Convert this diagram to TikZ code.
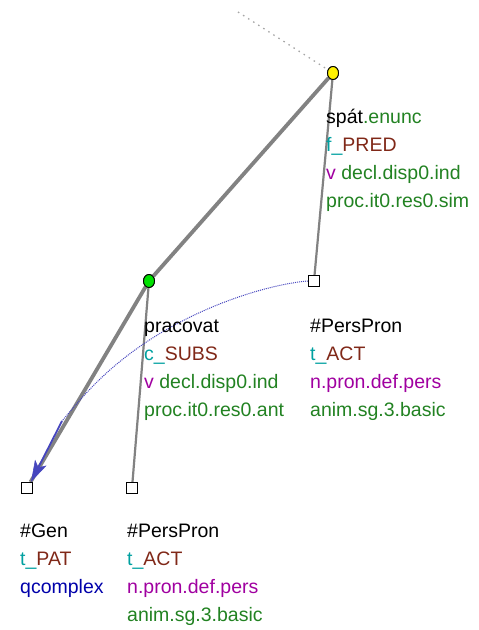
\documentclass[tikz,border=0pt]{standalone}
\usepackage{fontspec}
\setmainfont{Liberation Sans}
\usetikzlibrary{shapes.geometric,calc}

\definecolor{lemmagreen}{RGB}{34,130,34}
\definecolor{funteal}{RGB}{0,160,160}
\definecolor{funbrown}{RGB}{128,40,24}
\definecolor{tagpurple}{RGB}{160,0,160}
\definecolor{tagnavy}{RGB}{0,0,170}
\definecolor{edgegray}{RGB}{130,130,130}
\definecolor{corefblue}{RGB}{70,70,190}
\definecolor{nodegreen}{RGB}{0,225,0}

\begin{document}
\begin{tikzpicture}[x=1pt,y=-1pt,
  every node/.style={inner sep=0pt},
  verbnode/.style={ellipse,draw=black,line width=0.9pt,minimum width=11pt,minimum height=13pt},
  boxnode/.style={rectangle,draw=black,line width=0.9pt,fill=white,minimum size=11pt},
  label line/.style={anchor=base west,font=\fontsize{19.5}{28}\selectfont},
  thickedge/.style={draw=edgegray,line width=3.8pt},
  thinedge/.style={draw=edgegray,line width=2.2pt},
  rootedge/.style={draw=gray!70,line width=1.3pt,dash pattern=on 1.5pt off 4.5pt},
  coref/.style={draw=corefblue,line width=1pt,densely dotted},
  coreflead/.style={draw=corefblue,line width=1.8pt},
  coreftip/.style={fill=corefblue,draw=corefblue,line width=0.5pt,line join=miter}
]
\useasboundingbox (0,0) rectangle (479,630);

% tree nodes
\coordinate (top) at (238,12);
\node[verbnode,fill=yellow] (spat) at (333,73) {};
\node[verbnode,fill=nodegreen] (prac) at (149,281) {};
\node[boxnode] (ppA) at (314,281) {};
\node[boxnode] (gen) at (27,488) {};
\node[boxnode] (ppB) at (132,488) {};

% edges
\draw[rootedge] (top) -- (spat);
\draw[thickedge] (spat) -- (prac);
\draw[thinedge] (spat) -- (ppA);
\draw[thickedge] (prac) -- (gen);
\draw[thinedge] (prac) -- (ppB);

% coreference arrow
\coordinate (cbend) at (142,345);
\coordinate (clead) at (62,421);
\coordinate (ctip) at ($(gen.north east)+(-1.5,-1)$);
\coordinate (cbase) at ($(ctip)!20pt!(clead)$);
\coordinate (cnotch) at ($(ctip)!15pt!(clead)$);
\draw[coref] (ppA.west) .. controls (270,284) and (200,305) .. (cbend)
  .. controls (100,374) and (80,400) .. (clead);
\draw[coreflead] (clead) -- (cnotch);
\fill[coreftip] (ctip) -- ($(cbase)!6pt!90:(ctip)$) -- (cnotch)
  -- ($(cbase)!6pt!-90:(ctip)$) -- cycle;

% node shapes over the edges
\node[verbnode,fill=yellow] at (spat) {};
\node[verbnode,fill=nodegreen] at (prac) {};
\node[boxnode] at (ppA) {};
\node[boxnode] at (gen) {};
\node[boxnode] at (ppB) {};

% labels of spát
\node[label line] (spatA) at (326,123) {spát\textcolor{lemmagreen}{.enunc}};
\node[label line] (spatB) at (326,151) {\textcolor{funteal}{f\_}\textcolor{funbrown}{PRED}};
\node[label line] (spatC) at (326,179) {\textcolor{tagpurple}{v} \textcolor{lemmagreen}{decl.disp0.ind}};
\node[label line] (spatD) at (326,207) {\textcolor{lemmagreen}{proc.it0.res0.sim}};

% labels of pracovat
\node[label line] (pracA) at (144,332) {pracovat};
\node[label line] (pracB) at (144,360) {\textcolor{funteal}{c\_}\textcolor{funbrown}{SUBS}};
\node[label line] (pracC) at (144,388) {\textcolor{tagpurple}{v} \textcolor{lemmagreen}{decl.disp0.ind}};
\node[label line] (pracD) at (144,416) {\textcolor{lemmagreen}{proc.it0.res0.ant}};

% labels of the first #PersPron
\node[label line] (ppAA) at (310,332) {\#PersPron};
\node[label line] (ppAB) at (310,360) {\textcolor{funteal}{t\_}\textcolor{funbrown}{ACT}};
\node[label line] (ppAC) at (310,388) {\textcolor{tagpurple}{n.pron.def.pers}};
\node[label line] (ppAD) at (310,416) {\textcolor{lemmagreen}{anim.sg.3.basic}};

% labels of #Gen
\node[label line] (genA) at (20,537) {\#Gen};
\node[label line] (genB) at (20,565) {\textcolor{funteal}{t\_}\textcolor{funbrown}{PAT}};
\node[label line] (genC) at (20,593) {\textcolor{tagnavy}{qcomplex}};

% labels of the second #PersPron
\node[label line] (ppBA) at (127,537) {\#PersPron};
\node[label line] (ppBB) at (127,565) {\textcolor{funteal}{t\_}\textcolor{funbrown}{ACT}};
\node[label line] (ppBC) at (127,593) {\textcolor{tagpurple}{n.pron.def.pers}};
\node[label line] (ppBD) at (127,621) {\textcolor{lemmagreen}{anim.sg.3.basic}};
\end{tikzpicture}
\end{document}
